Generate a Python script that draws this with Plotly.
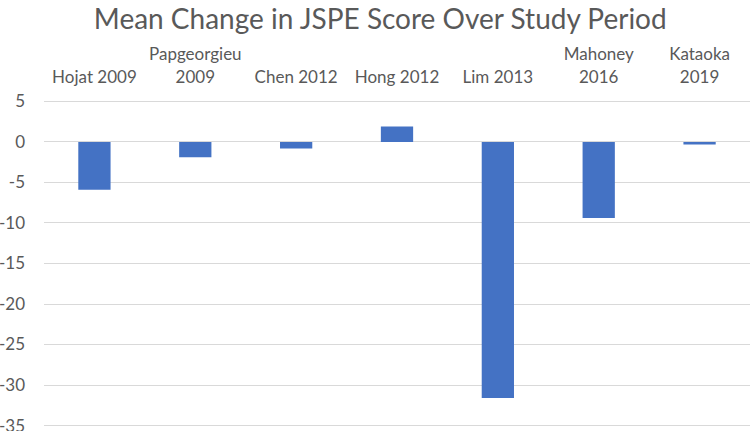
import plotly.graph_objects as go

studies = ["Hojat 2009", "Papgeorgieu<br>2009", "Chen 2012", "Hong 2012", "Lim 2013", "Mahoney<br>2016", "Kataoka<br>2019"]
mean_change = [-5.9, -1.9, -0.8, 1.9, -31.6, -9.4, -0.3]
y_ticks = [5, 0, -5, -10, -15, -20, -25, -30, -35]
y_tick_labels = ["5", "0", "-5", "-10", "-15", "-20", "-25", "-30", "-35"]

FONT = "Lato"
GREY = "#595959"

fig = go.Figure(go.Bar(x=studies, y=mean_change, marker=dict(color="#4472C4", line=dict(width=0)), width=0.32))

fig.update_layout(
    width=750, height=431,
    paper_bgcolor="white", plot_bgcolor="white",
    margin=dict(l=44, r=0, t=99, b=3),
    title=dict(text="Mean Change in JSPE Score Over Study Period", x=0.507, xanchor="center",
               y=0.955, yanchor="middle", font=dict(family=FONT, size=28, color=GREY)),
    showlegend=False,
    font=dict(family=FONT, color=GREY),
)
fig.update_xaxes(side="top", showgrid=False, showline=False, ticks="", ticklabelstandoff=12, automargin=False,
                 tickfont=dict(family=FONT, size=17, color=GREY))
fig.update_yaxes(range=[-35.3, 5.3], tickvals=y_ticks, ticktext=y_tick_labels, showgrid=True,
                 gridcolor="#D9D9D9", gridwidth=1.3, automargin=False, ticklabeloverflow="allow",
                 zeroline=True, zerolinecolor="#D9D9D9", zerolinewidth=1.3, showline=False,
                 ticks="", ticklabelstandoff=18, tickfont=dict(family=FONT, size=17, color=GREY))

fig.write_html("out.html", config={"displayModeBar": False},
               post_script="document.body.style.margin='0';")
